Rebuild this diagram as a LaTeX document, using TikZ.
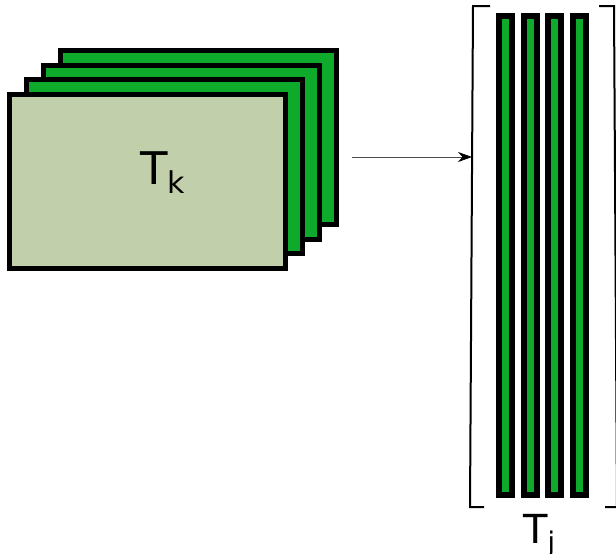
\documentclass[tikz,border=0pt]{standalone}
\usepackage{fontspec}
\newfontfamily\labelfont{DejaVu Sans}
\usetikzlibrary{arrows.meta,positioning}
\definecolor{cardgreen}{RGB}{14,170,44}
\definecolor{cardlight}{RGB}{193,208,170}

\begin{document}
\begin{tikzpicture}[x=1pt,y=-1pt]
\useasboundingbox (0,0) rectangle (616,554);
\clip (0,0) rectangle (616,554);
% --- stack of cards (left) ---
\foreach \i in {3,2,1}{
  \draw[line width=5pt,fill=cardgreen] (9.5+17*\i,94.5-14.7*\i) rectangle ++(276,174);
}
\draw[line width=5pt,fill=cardlight] (9.5,94.5) rectangle ++(276,174);
\node[anchor=base west,inner sep=0pt,font=\labelfont] (tk) at (140,184)
  {\fontsize{45}{50}\selectfont T\raisebox{-9pt}{\fontsize{30}{34}\selectfont k}};

% --- bracketed column vectors (right) ---
\draw[line width=2pt] (490,6) -- (473,6) -- (470,507) -- (484,507);
\draw[line width=2pt] (599,6) -- (614,6) -- (617,507) -- (605,507);
\foreach \x in {0,24.7,49.4,74}{
  \draw[line width=6pt,fill=cardgreen] (499+\x,16) rectangle ++(13,479);
}
\node[anchor=base west,inner sep=0pt,font=\labelfont] (tj) at (523,543)
  {\fontsize{40}{46}\selectfont T\raisebox{-8pt}{\fontsize{27}{30}\selectfont j}};

% --- arrow ---
\coordinate (from) at (352,157);
\coordinate (to) at (472,157);
\draw[line width=0.8pt,black!70,-{Stealth[length=14pt,width=10pt,black]}] (from) -- (to);
\end{tikzpicture}
\end{document}
